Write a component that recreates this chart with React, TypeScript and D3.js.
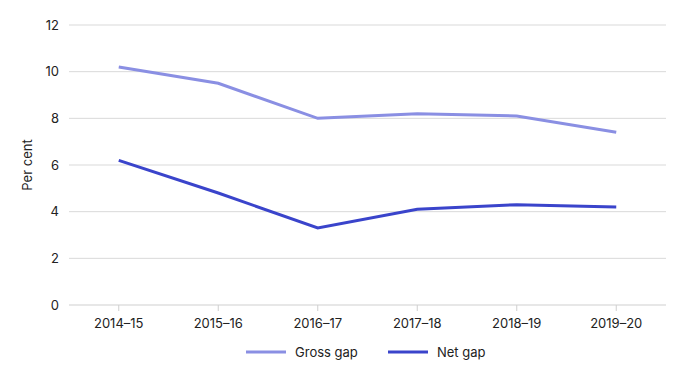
import React from "react";
import * as d3 from "d3";

const categories = ["2014–15", "2015–16", "2016–17", "2017–18", "2018–19", "2019–20"];
const grossGap = [10.2, 9.5, 8.0, 8.2, 8.1, 7.4];
const netGap = [6.2, 4.8, 3.3, 4.1, 4.3, 4.2];
const yTicks = [0, 2, 4, 6, 8, 10, 12];

const W = 689, H = 379;
const left = 69, right = 666, top = 25, bottom = 305;
const grossColor = "#8a8fe3";
const netColor = "#3a44cb";
const font = "Inter, 'Noto Sans', sans-serif";

export default function App() {
  const x = d3.scaleBand<string>().domain(categories).range([left, right]);
  const y = d3.scaleLinear().domain([0, 12]).range([bottom, top]);
  const cx = (c: string) => (x(c) as number) + x.bandwidth() / 2;
  const line = d3.line<number>().x((_, i) => cx(categories[i])).y((d) => y(d));

  return (
    <svg width={W} height={H} style={{ position: "absolute", left: 0, top: 0, fontFamily: font }}>
      {yTicks.map((t) => (
        <g key={t}>
          <line x1={left} x2={right} y1={y(t)} y2={y(t)} stroke={t === 0 ? "#cfcfcf" : "#d9d9d9"} strokeWidth={1} />
          <text x={59} y={y(t)} dy="0.35em" textAnchor="end" fontSize={13} fill="#222">{t}</text>
        </g>
      ))}
      {categories.map((c) => (
        <g key={c}>
          <line x1={cx(c)} x2={cx(c)} y1={bottom} y2={bottom + 6} stroke="#cfcfcf" />
          <text x={cx(c)} y={328} textAnchor="middle" fontSize={13} fill="#222">{c}</text>
        </g>
      ))}
      <text transform={`translate(32,${(top + bottom) / 2}) rotate(-90)`} textAnchor="middle" fontSize={13} fill="#222">Per cent</text>
      <path d={line(grossGap) || ""} fill="none" stroke={grossColor} strokeWidth={3} />
      <path d={line(netGap) || ""} fill="none" stroke={netColor} strokeWidth={3} />
      <g>
        <line x1={246} x2={286} y1={352} y2={352} stroke={grossColor} strokeWidth={3} />
        <text x={295} y={352} dy="0.35em" fontSize={13} fill="#222">Gross gap</text>
        <line x1={388} x2={428} y1={352} y2={352} stroke={netColor} strokeWidth={3} />
        <text x={437} y={352} dy="0.35em" fontSize={13} fill="#222">Net gap</text>
      </g>
    </svg>
  );
}
